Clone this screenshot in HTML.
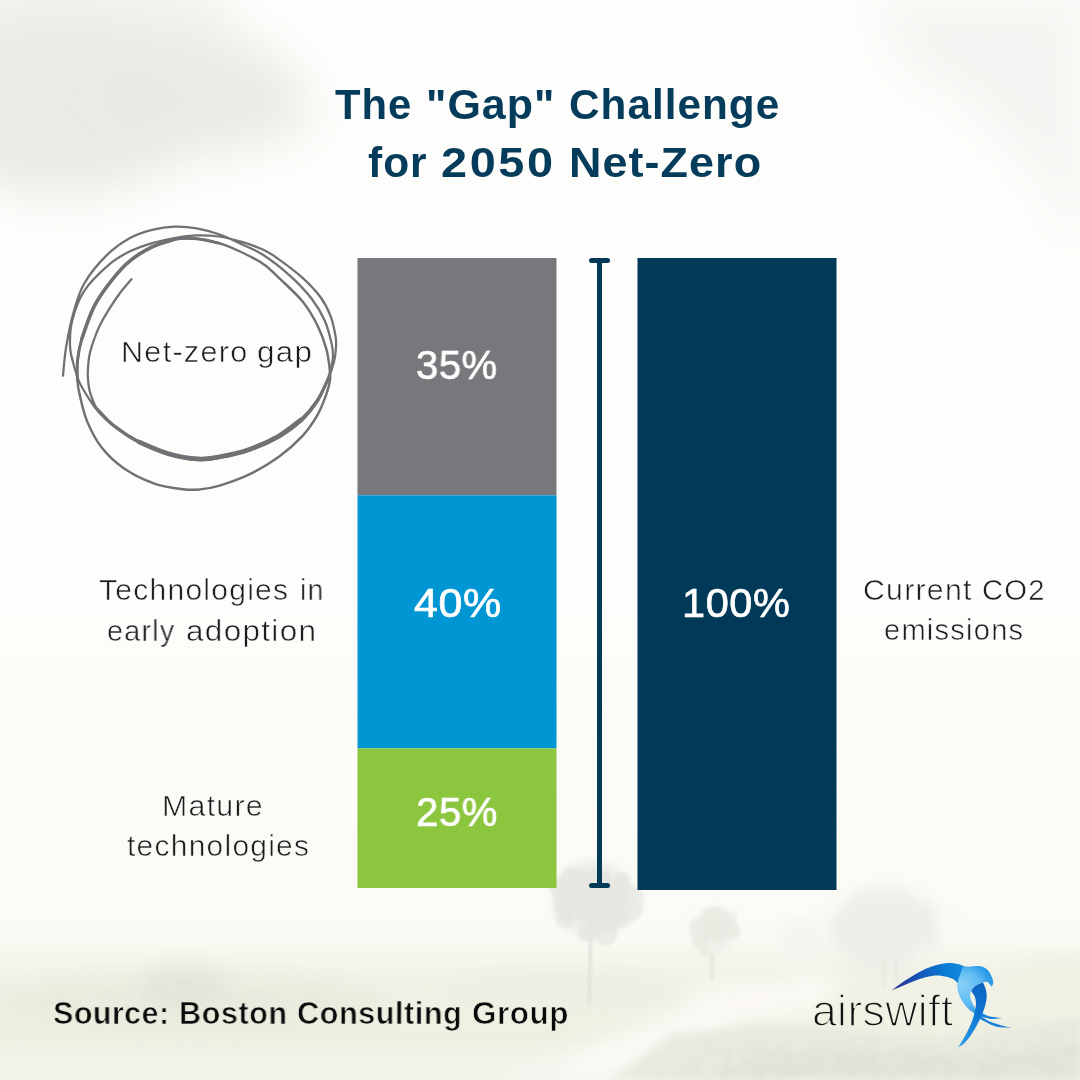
<!DOCTYPE html>
<html lang="en">
<head>
<meta charset="utf-8">
<title>The "Gap" Challenge for 2050 Net-Zero</title>
<style>
  html, body { margin: 0; padding: 0; }
  body { width: 1080px; height: 1080px; overflow: hidden; background: #fdfdfb; }
  #stage { position: relative; width: 1080px; height: 1080px; overflow: hidden; background: #fdfdfb;
           font-family: "Liberation Sans", sans-serif; }
  #art { position: absolute; left: 0; top: 0; width: 1080px; height: 1080px; display: block; }
  .t { position: absolute; white-space: nowrap; line-height: 1; margin: 0; padding: 0; transform-origin: 0 0; will-change: transform; }
  .title { color: #053b5b; font-weight: bold; font-size: 41.8px; }
  .lab { color: #1c1c1c; font-size: 29px; -webkit-text-stroke: 0.55px #fcfcfa; }
  .pct { color: #ffffff; font-size: 40.6px; -webkit-text-stroke: 0.7px #ffffff; }
  .src { color: #0a0a0a; font-weight: bold; font-size: 31.5px; -webkit-text-stroke: 0.7px #eceee1; }
  .logo { color: #111; font-size: 44.5px; -webkit-text-stroke: 1.5px #eff0e4; }
</style>
</head>
<body>
<div id="stage">
<svg id="art" width="1080" height="1080" viewBox="0 0 1080 1080">
  <defs>
    <filter id="b30" x="-50%" y="-50%" width="200%" height="200%"><feGaussianBlur stdDeviation="22"/></filter>
    <filter id="b12" x="-50%" y="-50%" width="200%" height="200%"><feGaussianBlur stdDeviation="10"/></filter>
    <filter id="b5" x="-50%" y="-50%" width="200%" height="200%"><feGaussianBlur stdDeviation="4"/></filter>
    <filter id="b2" x="-50%" y="-50%" width="200%" height="200%"><feGaussianBlur stdDeviation="1.6"/></filter>
  </defs>

  <!-- BACKGROUND-ART -->
  <defs>
    <linearGradient id="gWarm" x1="0" y1="0" x2="0" y2="1">
      <stop offset="0" stop-color="#fdfdfb"/><stop offset="0.55" stop-color="#fdfdfb"/><stop offset="0.86" stop-color="#fbfaf5"/><stop offset="1" stop-color="#f9f8f2"/>
    </linearGradient>
    <linearGradient id="gField" gradientUnits="userSpaceOnUse" x1="0" y1="938" x2="0" y2="1080">
      <stop offset="0" stop-color="#f1f2e5" stop-opacity="0"/><stop offset="0.25" stop-color="#f1f2e5" stop-opacity="0.9"/>
      <stop offset="0.7" stop-color="#eef0e2" stop-opacity="1"/><stop offset="1" stop-color="#f3f3ea" stop-opacity="1"/>
    </linearGradient>
    <filter id="tex" x="0" y="0" width="100%" height="100%">
      <feTurbulence type="fractalNoise" baseFrequency="0.09" numOctaves="3" seed="7" result="n"/>
      <feColorMatrix in="n" type="matrix" values="0 0 0 0 0.55  0 0 0 0 0.57  0 0 0 0 0.5  0 0 0 1.6 -0.62"/>
      <feComposite in2="SourceGraphic" operator="in"/>
      <feGaussianBlur stdDeviation="1.2"/>
    </filter>
  </defs>
  <rect x="0" y="0" width="1080" height="1080" fill="url(#gWarm)"/>

  <!-- clouds -->
  <g filter="url(#b30)" fill="#e9e9e6">
    <ellipse cx="60" cy="105" rx="150" ry="90" opacity="0.95"/>
    <ellipse cx="190" cy="95" rx="110" ry="62" opacity="0.9"/>
    <ellipse cx="270" cy="112" rx="45" ry="30" opacity="0.7"/>
    <ellipse cx="40" cy="10" rx="200" ry="40" opacity="0.55"/>
  </g>
  <g filter="url(#b30)" fill="#f3f3f1">
    <path d="M880 0 L1080 0 L1080 250 L1040 170 L970 100 L900 60 Z" opacity="0.95"/>
  </g>

  <!-- ground / field haze -->
  <rect x="0" y="930" width="1080" height="150" fill="url(#gField)"/>
  <!-- hedge band left -->
  <g filter="url(#b12)">
    <ellipse cx="190" cy="1002" rx="200" ry="26" fill="#e5e7d9" opacity="0.5"/>
    <ellipse cx="185" cy="985" rx="45" ry="22" fill="#e2e3d8" opacity="0.7"/>
    <ellipse cx="560" cy="990" rx="120" ry="12" fill="#eaebdf" opacity="0.7"/>
  </g>
  <!-- bright road -->
  <g filter="url(#b12)" fill="#faf9f4">
    <path d="M812 972 L700 1000 L600 1040 L500 1080 L660 1080 L720 1035 L790 1000 L850 985 Z" opacity="0.95"/>
    <ellipse cx="760" cy="1000" rx="75" ry="22" opacity="0.8"/>
  </g>
  <rect x="0" y="1058" width="560" height="22" fill="#f5f4ee" filter="url(#b12)" opacity="0.8"/>

  <!-- trees -->
  <g filter="url(#b5)">
    <ellipse cx="593" cy="899" rx="40" ry="38" fill="#ebebe6" opacity="0.9"/>
    <ellipse cx="714" cy="932" rx="21" ry="22" fill="#eeeee8" opacity="0.9"/>
    <ellipse cx="800" cy="940" rx="22" ry="20" fill="#f4f4f0" opacity="0.8"/>
  </g>
  <g filter="url(#b2)">
    <g fill="#e2e2dc" opacity="0.55"><circle cx="566.6" cy="906.8" r="12.5"/><circle cx="567.6" cy="904.3" r="10.5"/><circle cx="603.4" cy="921.9" r="10.8"/><circle cx="595.5" cy="890.3" r="8.8"/><circle cx="622.0" cy="916.8" r="11.2"/><circle cx="630.3" cy="908.6" r="12.8"/><circle cx="576.4" cy="876.0" r="7.9"/><circle cx="619.5" cy="901.4" r="7.4"/><circle cx="599.1" cy="913.8" r="7.2"/><circle cx="569.7" cy="904.1" r="12.1"/><circle cx="563.3" cy="895.6" r="10.0"/><circle cx="580.2" cy="879.1" r="8.7"/><circle cx="632.0" cy="898.5" r="12.0"/><circle cx="587.9" cy="880.9" r="8.4"/><circle cx="591.1" cy="906.4" r="11.6"/><circle cx="564.3" cy="918.8" r="9.3"/><circle cx="627.2" cy="890.2" r="7.0"/><circle cx="602.3" cy="933.2" r="9.8"/><circle cx="615.3" cy="896.4" r="7.4"/><circle cx="569.9" cy="875.6" r="8.6"/><circle cx="610.2" cy="909.1" r="12.8"/><circle cx="593.5" cy="888.6" r="8.5"/><circle cx="598.8" cy="903.1" r="11.8"/><circle cx="605.1" cy="922.7" r="9.7"/><circle cx="604.8" cy="927.9" r="7.8"/><circle cx="586.3" cy="890.9" r="9.5"/><circle cx="597.1" cy="915.6" r="12.8"/><circle cx="599.3" cy="881.7" r="12.3"/><circle cx="598.5" cy="919.7" r="12.1"/><circle cx="586.8" cy="891.7" r="12.9"/><circle cx="597.0" cy="915.2" r="11.6"/><circle cx="584.0" cy="914.9" r="7.4"/><circle cx="616.9" cy="913.5" r="8.5"/><circle cx="575.6" cy="886.7" r="9.7"/><circle cx="617.5" cy="892.9" r="10.4"/><circle cx="602.4" cy="889.0" r="7.9"/><circle cx="622.1" cy="881.0" r="8.5"/><circle cx="605.0" cy="928.0" r="12.6"/><circle cx="605.5" cy="933.2" r="12.3"/><circle cx="574.5" cy="885.5" r="7.6"/><circle cx="630.1" cy="907.8" r="8.4"/><circle cx="588.1" cy="883.1" r="11.9"/><circle cx="577.6" cy="888.8" r="8.1"/><circle cx="591.5" cy="891.6" r="8.4"/><circle cx="559.9" cy="886.6" r="10.7"/><circle cx="586.0" cy="933.9" r="8.2"/></g>
    <g fill="#e6e6df" opacity="0.55"><circle cx="723.2" cy="933.0" r="6.8"/><circle cx="720.7" cy="934.8" r="6.5"/><circle cx="708.6" cy="929.2" r="6.4"/><circle cx="729.6" cy="918.7" r="7.6"/><circle cx="708.7" cy="917.6" r="5.6"/><circle cx="715.8" cy="932.4" r="8.6"/><circle cx="708.0" cy="912.2" r="5.1"/><circle cx="705.4" cy="921.6" r="7.9"/><circle cx="705.4" cy="951.3" r="5.3"/><circle cx="697.7" cy="926.9" r="8.6"/><circle cx="712.7" cy="914.8" r="8.2"/><circle cx="723.4" cy="926.2" r="7.7"/><circle cx="729.3" cy="920.6" r="6.7"/><circle cx="718.7" cy="913.2" r="7.3"/><circle cx="705.9" cy="923.6" r="7.3"/><circle cx="710.5" cy="929.0" r="7.6"/><circle cx="732.9" cy="931.2" r="7.9"/><circle cx="701.0" cy="943.4" r="7.3"/><circle cx="696.9" cy="939.0" r="5.3"/><circle cx="714.0" cy="929.4" r="7.4"/><circle cx="705.6" cy="933.1" r="7.8"/><circle cx="698.8" cy="932.3" r="8.7"/><circle cx="713.9" cy="933.4" r="6.2"/><circle cx="710.6" cy="924.7" r="5.7"/><circle cx="727.2" cy="922.8" r="6.8"/><circle cx="722.1" cy="925.2" r="7.7"/></g>
  </g>
  <g filter="url(#b12)">
    <ellipse cx="885" cy="930" rx="54" ry="38" fill="#f0f0eb" opacity="0.95"/>
    <ellipse cx="1055" cy="985" rx="50" ry="28" fill="#eef0e2" opacity="0.8"/>
  </g>
  <g filter="url(#b5)">
    <g fill="#ebebe5" opacity="0.5"><circle cx="894.8" cy="948.5" r="14.6"/><circle cx="922.5" cy="914.6" r="11.7"/><circle cx="866.1" cy="921.9" r="10.0"/><circle cx="844.8" cy="930.6" r="14.9"/><circle cx="875.3" cy="899.6" r="10.9"/><circle cx="899.8" cy="947.5" r="10.9"/><circle cx="892.1" cy="948.5" r="13.4"/><circle cx="863.0" cy="930.6" r="14.9"/><circle cx="914.3" cy="927.7" r="9.5"/><circle cx="927.5" cy="935.9" r="9.3"/><circle cx="877.6" cy="907.7" r="11.2"/><circle cx="887.1" cy="927.1" r="10.0"/><circle cx="881.2" cy="931.0" r="14.8"/><circle cx="887.1" cy="939.9" r="9.3"/><circle cx="866.5" cy="915.6" r="13.4"/><circle cx="863.3" cy="906.5" r="15.7"/><circle cx="879.0" cy="918.8" r="12.3"/><circle cx="887.3" cy="931.9" r="12.3"/><circle cx="882.3" cy="918.8" r="10.9"/><circle cx="865.1" cy="951.5" r="12.6"/><circle cx="856.8" cy="912.0" r="11.8"/><circle cx="897.3" cy="900.6" r="9.6"/><circle cx="920.4" cy="919.1" r="9.9"/><circle cx="852.8" cy="937.0" r="15.4"/><circle cx="862.6" cy="946.1" r="15.2"/><circle cx="898.8" cy="900.1" r="12.2"/><circle cx="875.7" cy="919.8" r="14.1"/><circle cx="900.6" cy="907.5" r="14.0"/><circle cx="895.8" cy="959.5" r="15.9"/><circle cx="917.3" cy="926.8" r="14.5"/><circle cx="867.4" cy="957.6" r="15.0"/><circle cx="880.0" cy="935.9" r="12.1"/><circle cx="848.8" cy="921.4" r="12.4"/><circle cx="925.8" cy="935.1" r="9.4"/><circle cx="890.9" cy="919.3" r="11.3"/><circle cx="889.3" cy="920.3" r="10.0"/><circle cx="848.4" cy="927.2" r="14.9"/><circle cx="869.5" cy="901.0" r="12.4"/><circle cx="896.0" cy="927.7" r="10.5"/><circle cx="864.5" cy="927.4" r="14.1"/></g>
  </g>
  <g stroke-linecap="round" fill="none" filter="url(#b2)">
    <path d="M591 938 L589 1004" stroke="#dfdfd8" stroke-width="3"/>
    <path d="M712 955 L712 980" stroke="#e2e2db" stroke-width="2.6"/>
    <path d="M884 962 L884 986 M896 962 L897 984" stroke="#e4e4dd" stroke-width="2.4"/>
  </g>

  <!-- bushes lower right -->
  <g filter="url(#b5)">
    <path d="M610 1080 L640 1058 L672 1034 L720 1030 L770 1024 L830 1030 L880 1034 L940 1040 L1000 1030 L1080 1020 L1080 1080 Z" fill="#e8e9de" opacity="0.95"/>
    <path d="M700 1080 L760 1052 L860 1048 L960 1056 L1080 1046 L1080 1080 Z" fill="#e3e4d9" opacity="0.8"/>
  </g>
  <mask id="mBush" maskUnits="userSpaceOnUse" x="0" y="900" width="1080" height="180">
    <g filter="url(#b12)">
      <path d="M640 1080 L690 1046 L760 1038 L880 1046 L1000 1042 L1080 1034 L1080 1100 L640 1100 Z" fill="#fff"/>
      <ellipse cx="200" cy="1003" rx="190" ry="22" fill="#777"/>
    </g>
  </mask>
  <rect x="0" y="940" width="1080" height="140" fill="#9a9c8c" filter="url(#tex)" opacity="0.2" mask="url(#mBush)"/>
  <!-- /BACKGROUND-ART -->

  <!-- BARS -->
  <rect x="357.5" y="258" width="199" height="237.3" fill="#77787c"/>
  <rect x="357.5" y="495.3" width="199" height="253.1" fill="#0095d3"/>
  <rect x="357.5" y="748.4" width="199" height="139.6" fill="#8cc63f"/>
  <rect x="637.5" y="258" width="199" height="632" fill="#003a58"/>

  <!-- BRACKET -->
  <g stroke="#003a58" stroke-width="5" stroke-linecap="round" fill="none">
    <line x1="599.5" y1="260.5" x2="599.5" y2="885.5" stroke-linecap="butt"/>
    <line x1="591.5" y1="260.5" x2="607.5" y2="260.5"/>
    <line x1="591.5" y1="885.5" x2="607.5" y2="885.5"/>
  </g>

  <!-- SCRIBBLE -->
  <g fill="none" stroke="#707175" stroke-linecap="round" stroke-linejoin="round">
    <path stroke-width="2.25" d="M131.5 279.3C129.6 281.6 123.7 288.1 120.0 293.0C116.3 297.9 112.5 303.7 109.3 308.9C106.0 314.1 103.0 319.1 100.5 324.0C98.0 328.9 96.2 333.3 94.4 338.5C92.6 343.7 90.6 349.4 89.5 355.0C88.4 360.6 88.0 367.2 87.8 372.2C87.6 377.2 88.1 381.3 88.6 385.0C89.1 388.7 89.2 390.3 90.7 394.4C92.2 398.4 93.6 404.1 97.4 409.3C101.2 414.5 106.8 420.2 113.7 425.6C120.6 431.0 129.8 437.2 138.9 441.9C148.0 446.6 158.6 450.9 168.5 453.7C178.4 456.5 189.6 458.4 198.1 458.9C206.6 459.4 211.1 458.3 219.6 456.7C228.1 455.1 239.4 452.8 249.3 449.3C259.2 445.8 270.3 440.8 278.9 435.9C287.5 430.9 294.7 425.5 301.1 419.6C307.5 413.7 312.9 407.1 317.4 400.4C321.8 393.7 325.0 386.0 327.8 379.6C330.6 373.2 332.6 367.3 334.0 361.9C335.4 356.5 335.8 351.3 336.0 347.0C336.2 342.7 336.4 341.1 335.5 336.0C334.6 330.9 333.2 322.8 330.7 316.3C328.2 309.8 325.1 303.4 320.4 297.0C315.7 290.6 309.5 284.1 302.6 277.8C295.7 271.5 285.4 264.0 278.9 259.3C272.3 254.6 269.6 252.7 263.3 249.8C257.0 246.9 248.5 243.9 241.1 241.7C233.7 239.5 226.3 237.6 218.9 236.5C211.5 235.4 204.1 235.2 196.7 235.4C189.3 235.7 181.8 236.7 174.4 238.0C167.0 239.3 159.6 240.9 152.2 243.1C144.8 245.3 137.2 247.8 130.0 251.3C122.8 254.9 117.0 257.8 109.3 264.4C101.6 271.0 90.3 281.7 84.1 291.1C77.9 300.5 74.5 311.6 72.2 320.7C69.9 329.8 69.8 338.5 70.0 345.9C70.2 353.2 72.1 358.7 73.7 364.8C75.3 370.9 76.9 376.7 79.6 382.6C82.3 388.5 86.8 395.4 90.0 400.4C93.2 405.4 94.9 408.1 99.0 412.5C103.1 416.9 107.8 421.7 114.6 426.8C121.4 431.9 130.5 438.4 139.6 443.1C148.7 447.8 159.2 452.0 169.0 454.9C178.8 457.8 189.6 459.7 198.1 460.2C206.6 460.7 211.2 459.6 219.8 458.0C228.4 456.4 239.8 454.1 249.7 450.6C259.6 447.1 270.8 442.2 279.5 437.2C288.2 432.2 295.6 426.6 302.0 420.6C308.4 414.6 313.8 407.6 318.0 401.0C322.2 394.4 324.8 386.8 327.0 381.0C329.2 375.2 330.5 370.2 331.5 366.0C332.5 361.8 333.0 359.8 333.0 356.0C333.0 352.2 332.9 348.9 331.5 343.0C330.1 337.1 328.1 328.1 324.8 320.7C321.5 313.3 317.2 305.9 311.5 298.5C305.8 291.1 298.7 283.6 290.7 276.3C282.7 269.1 271.6 260.4 263.3 255.0C255.0 249.6 248.5 247.3 241.1 243.9C233.7 240.5 226.3 236.9 218.9 234.3C211.5 231.7 204.1 229.6 196.7 228.3C189.3 227.0 181.8 226.3 174.4 226.6C167.0 226.8 159.6 227.9 152.2 229.8C144.8 231.7 137.7 233.7 130.0 238.0C122.3 242.3 114.0 248.0 106.3 255.6C98.6 263.2 89.5 274.3 84.1 283.7C78.7 293.1 76.7 301.5 73.7 311.9C70.7 322.3 68.1 335.3 66.3 345.9C64.5 356.5 63.5 370.7 63.0 375.6"/>
    <path stroke-width="2.45" d="M329.6 368.1C329.0 362.9 328.3 356.0 326.3 348.9C324.3 341.8 321.3 333.1 317.4 325.2C313.4 317.3 309.0 309.4 302.6 301.5C296.2 293.6 285.4 284.1 278.9 277.8C272.3 271.5 269.6 268.2 263.3 263.9C257.0 259.6 248.5 255.5 241.1 252.0C233.7 248.5 226.3 245.3 218.9 243.1C211.5 240.9 204.1 239.3 196.7 238.7C189.3 238.1 181.8 238.0 174.4 239.4C167.0 240.8 159.6 243.3 152.2 246.9C144.8 250.5 136.7 255.4 130.0 260.9C123.3 266.4 117.9 272.5 112.0 280.0C106.1 287.5 99.4 296.1 94.4 305.9C89.4 315.6 84.7 329.5 81.9 338.5C79.1 347.5 78.3 353.1 77.6 360.0C76.8 366.9 77.1 374.3 77.4 380.0C77.7 385.7 78.0 387.5 79.6 394.4C81.2 401.2 83.3 412.2 87.0 421.1C90.7 430.0 95.7 439.9 101.9 447.8C108.1 455.7 115.5 462.6 124.1 468.5C132.7 474.4 143.8 479.8 153.7 483.3C163.6 486.8 175.6 488.3 183.3 489.3C191.0 490.3 193.9 490.0 200.0 489.4C206.1 488.8 211.4 488.1 219.6 485.6C227.8 483.1 239.4 479.2 249.3 474.4C259.2 469.6 270.0 463.1 278.9 456.7C287.8 450.3 296.2 442.8 302.6 435.9C309.0 429.0 313.4 422.1 317.4 415.2C321.3 408.3 324.2 400.3 326.3 394.4C328.4 388.5 329.4 384.4 330.0 380.0C330.6 375.6 330.2 373.3 329.6 368.1Z"/>
    <path stroke-width="3.2" d="M97.4 409.3C100.1 412.0 106.8 420.2 113.7 425.6C120.6 431.0 129.8 437.2 138.9 441.9C148.0 446.6 158.6 450.9 168.5 453.7C178.4 456.5 189.6 458.4 198.1 458.9C206.6 459.4 211.1 458.3 219.6 456.7C228.1 455.1 239.4 452.8 249.3 449.3C259.2 445.8 270.3 440.8 278.9 435.9C287.5 430.9 294.7 425.5 301.1 419.6C307.5 413.7 312.9 407.1 317.4 400.4C321.8 393.7 326.1 383.1 327.8 379.6"/>
    <path stroke-width="4.6" d="M138.9 441.9C143.8 443.9 158.6 450.9 168.5 453.7C178.4 456.5 189.6 458.4 198.1 458.9C206.6 459.4 211.1 458.3 219.6 456.7C228.1 455.1 239.4 452.8 249.3 449.3C259.2 445.8 270.3 440.8 278.9 435.9C287.5 430.9 297.4 422.3 301.1 419.6"/>
    <path stroke-width="2.9" d="M218.9 243.1C215.2 242.4 204.1 239.3 196.7 238.7C189.3 238.1 181.8 238.0 174.4 239.4C167.0 240.8 159.6 243.3 152.2 246.9C144.8 250.5 136.7 255.4 130.0 260.9C123.3 266.4 117.9 272.5 112.0 280.0C106.1 287.5 99.4 296.1 94.4 305.9C89.4 315.6 84.7 329.5 81.9 338.5C79.1 347.5 78.3 353.1 77.6 360.0C76.8 366.9 77.4 376.7 77.4 380.0"/>
    <path stroke-width="3.5" d="M174.4 239.4C170.7 240.7 159.6 243.3 152.2 246.9C144.8 250.5 136.7 255.4 130.0 260.9C123.3 266.4 117.9 272.5 112.0 280.0C106.1 287.5 99.4 296.1 94.4 305.9C89.4 315.6 84.0 333.1 81.9 338.5"/>
  </g>
  <!-- /SCRIBBLE -->

  <!-- BIRD -->
  <defs>
    <linearGradient id="gWL" gradientUnits="userSpaceOnUse" x1="892" y1="990" x2="970" y2="968">
      <stop offset="0" stop-color="#2e2f8f"/><stop offset="0.35" stop-color="#1553b5"/><stop offset="0.7" stop-color="#0a7bd3"/><stop offset="1" stop-color="#1c8fe2"/>
    </linearGradient>
    <radialGradient id="gBD" gradientUnits="userSpaceOnUse" cx="965" cy="991" r="33" fx="962" fy="984">
      <stop offset="0" stop-color="#8ad0f8"/><stop offset="0.5" stop-color="#5fbbf2"/><stop offset="0.82" stop-color="#2f9ce7"/><stop offset="1" stop-color="#1c8fe2"/>
    </radialGradient>
    <linearGradient id="gWR" gradientUnits="userSpaceOnUse" x1="984" y1="984" x2="960" y2="1046">
      <stop offset="0" stop-color="#0b62bf"/><stop offset="0.5" stop-color="#1079d4"/><stop offset="1" stop-color="#2a9be8"/>
    </linearGradient>
  </defs>
  <g>
    <path d="M980.5 1012.5C982.1 1013.2 986.5 1015.7 990.2 1016.6C993.9 1017.6 1000.5 1017.8 1002.5 1018.1L1002.5 1018.1C1000.7 1018.2 995.1 1019.2 991.5 1019.0C987.9 1018.7 982.8 1016.8 981.1 1016.4Z" fill="#1a80d8"/>
    <path d="M980.9 1015.9C982.6 1016.9 986.4 1020.3 991.5 1022.3C996.5 1024.3 1007.9 1027.0 1011.2 1027.9L1011.2 1027.9C1008.8 1027.7 1000.8 1027.7 996.7 1026.7C992.5 1025.8 989.2 1023.7 986.3 1022.3C983.4 1021.0 980.7 1019.1 979.6 1018.4Z" fill="#1a80d8"/>
    <path d="M891.7 990.4C894.0 988.7 901.4 983.1 905.9 980.1C910.5 977.1 914.6 974.6 918.9 972.3C923.2 970.0 927.1 968.0 931.9 966.5C936.6 964.9 943.1 963.4 947.4 963.0C951.7 962.6 954.8 963.3 957.8 964.0C960.8 964.7 963.0 965.8 965.6 967.2C968.2 968.7 972.0 971.8 973.3 972.7L973.3 972.7C972.0 974.3 967.9 980.5 965.6 982.4C963.2 984.3 961.2 984.6 959.1 984.0C956.9 983.4 955.4 980.1 952.6 978.8C949.8 977.4 945.7 976.4 942.2 975.9C938.8 975.5 935.7 975.4 931.9 975.9C928.0 976.5 923.2 977.7 918.9 979.2C914.6 980.6 910.5 982.6 905.9 984.5C901.4 986.4 894.0 989.5 891.7 990.4Z" fill="url(#gWL)"/>
    <path d="M963.0 966.6C964.3 966.6 968.2 966.7 970.7 966.6C973.3 966.5 975.9 965.7 978.5 966.1C981.1 966.4 984.2 967.2 986.3 968.8C988.4 970.4 990.1 973.4 991.2 975.7C992.4 977.9 993.1 980.6 993.2 982.4C993.3 984.2 992.0 986.0 991.7 986.7L991.7 986.7C991.4 986.2 990.3 984.8 989.5 984.0C988.8 983.2 988.4 982.1 987.3 981.9C986.3 981.6 984.6 982.0 983.1 982.4C981.5 982.8 979.5 983.4 977.9 984.4C976.2 985.3 974.3 986.8 973.1 988.2C971.8 989.6 970.9 990.9 970.5 992.8C970.1 994.6 970.1 996.9 970.7 999.3C971.4 1001.6 973.1 1004.7 974.4 1007.0C975.7 1009.4 977.8 1012.4 978.5 1013.5L978.5 1013.5C977.8 1013.4 975.9 1014.0 974.0 1013.0C972.0 1012.0 969.1 1009.8 966.9 1007.3C964.6 1004.8 962.2 1001.3 960.6 998.2C959.1 995.2 958.0 991.7 957.5 988.9C957.1 986.0 957.1 984.8 958.0 981.1C958.9 977.4 962.1 969.0 963.0 966.6Z" fill="url(#gBD)"/>
    <path d="M983.1 982.4C983.5 983.5 985.0 986.5 985.7 988.9C986.3 991.3 986.8 993.9 986.7 996.7C986.6 999.5 986.0 1002.5 985.1 1005.7C984.2 1009.0 982.9 1012.7 981.4 1016.1C979.9 1019.6 978.1 1023.0 976.2 1026.5C974.2 1029.9 971.9 1033.9 969.7 1036.9C967.5 1039.8 965.1 1042.3 963.2 1044.0C961.3 1045.7 959.2 1046.7 958.4 1047.2L958.4 1047.2C959.6 1045.2 963.5 1038.7 965.6 1034.9C967.6 1031.1 969.3 1027.9 970.7 1024.5C972.1 1021.2 973.1 1018.2 974.0 1014.8C974.8 1011.5 975.8 1007.5 975.9 1004.4C976.1 1001.4 975.5 998.9 974.8 996.7C974.0 994.5 971.8 992.1 971.3 991.2L971.3 991.2C971.7 990.6 972.4 988.8 973.6 987.6C974.8 986.4 976.7 985.1 978.3 984.2C979.8 983.4 982.3 982.7 983.1 982.4Z" fill="url(#gWR)"/>
  </g>
  <!-- /BIRD -->
</svg>

<!-- TEXT -->
<div class="t title" id="t1a" style="left:335.1px; top:84.3px; letter-spacing:1.0px;">The</div>
<div class="t title" id="t1b" style="left:425.74px; top:84.3px; letter-spacing:1.0px; transform:scaleX(1.028);">"Gap"</div>
<div class="t title" id="t1c" style="left:568.99px; top:84.3px; letter-spacing:1.0px; transform:scaleX(1.012);">Challenge</div>
<div class="t title" id="t2a" style="left:367.8px; top:142.1px; letter-spacing:1.0px; transform:scaleX(1.016);">for</div>
<div class="t title" id="t2b" style="left:441.08px; top:142.1px; letter-spacing:2.35px; transform:scaleX(1.12);">2050</div>
<div class="t title" id="t2c" style="left:568.85px; top:142.1px; letter-spacing:1.0px; transform:scaleX(1.074);">Net-Zero</div>
<div class="t lab" id="l1a" style="left:120.82px; top:338.3px; letter-spacing:1.2px; transform:scaleX(1.055);">Net-zero</div>
<div class="t lab" id="l1b" style="left:257.35px; top:338.3px; letter-spacing:1.2px; transform:scaleX(1.084);">gap</div>
<div class="t lab" id="l2a" style="left:99.43px; top:575.7px; letter-spacing:1.2px; transform:scaleX(1.036);">Technologies</div>
<div class="t lab" id="l2b" style="left:299.86px; top:575.7px; letter-spacing:1.2px; transform:scaleX(0.975);">in</div>
<div class="t lab" id="l3a" style="left:106.84px; top:616.5px; letter-spacing:1.2px; transform:scaleX(0.992);">early</div>
<div class="t lab" id="l3b" style="left:185.84px; top:616.5px; letter-spacing:1.2px; transform:scaleX(1.086);">adoption</div>
<div class="t lab" id="l4" style="left:161.64px; top:791.6px; letter-spacing:1.2px; transform:scaleX(1.046);">Mature</div>
<div class="t lab" id="l5" style="left:126.63px; top:832.4px; letter-spacing:1.2px; transform:scaleX(1.034);">technologies</div>
<div class="t lab" id="l6a" style="left:862.69px; top:576.0px; letter-spacing:1.2px; transform:scaleX(1.043);">Current</div>
<div class="t lab" id="l6b" style="left:981.62px; top:576.0px; letter-spacing:1.2px; transform:scaleX(1.009);">CO2</div>
<div class="t lab" id="l7" style="left:883.83px; top:616.4px; letter-spacing:1.2px; transform:scaleX(1.004);">emissions</div>
<div class="t pct" id="p1" style="left:416.21px; top:344.9px; letter-spacing:0.6px; transform:scaleX(0.985);">35%</div>
<div class="t pct" id="p2" style="left:413.6px; top:582.9px; letter-spacing:0.6px; transform:scaleX(1.058);">40%</div>
<div class="t pct" id="p3" style="left:415.91px; top:791.8px; letter-spacing:0.6px; transform:scaleX(0.989);">25%</div>
<div class="t pct" id="p4" style="left:681.96px; top:582.9px; letter-spacing:0.6px; transform:scaleX(1.021);">100%</div>
<div class="t src" id="s1a" style="left:53.48px; top:997.9px; letter-spacing:0.4px; transform:scaleX(0.97);">Source:</div>
<div class="t src" id="s1b" style="left:179.48px; top:997.9px; letter-spacing:0.5px; transform:scaleX(0.974);">Boston</div>
<div class="t src" id="s1c" style="left:296.97px; top:997.9px; letter-spacing:0.5px; transform:scaleX(0.975);">Consulting</div>
<div class="t src" id="s1d" style="left:471.95px; top:997.9px; letter-spacing:0.5px; transform:scaleX(0.996);">Group</div>
<div class="t logo" id="g1" style="left:811.95px; top:988.5px; letter-spacing:0.37px;">airswift</div>
<!-- /TEXT -->
</div>
</body>
</html>
